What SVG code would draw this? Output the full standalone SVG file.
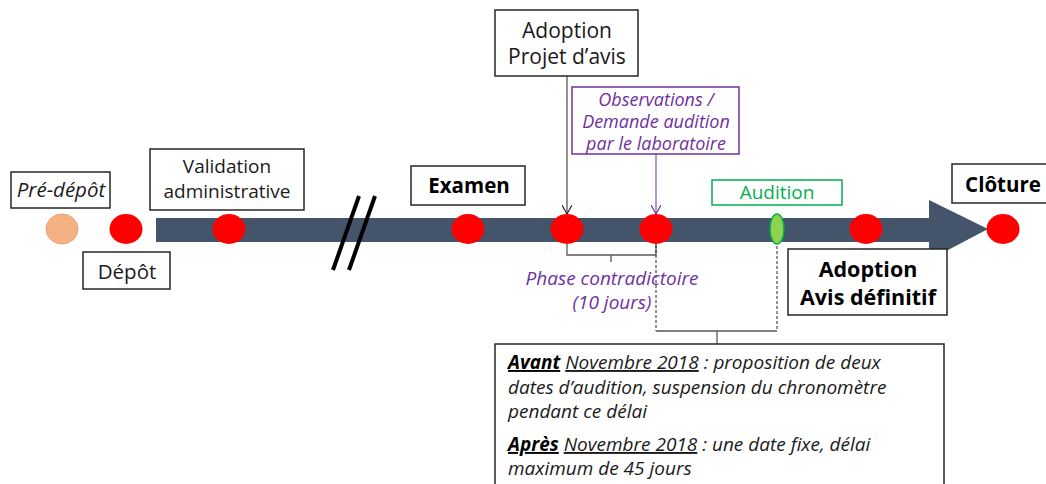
<svg xmlns="http://www.w3.org/2000/svg" width="1046" height="484" viewBox="0 0 1046 484">
<defs>
<style>
text{font-family:"Open Sans","Noto Sans","DejaVu Sans",sans-serif;font-size:20.5px;fill:#1a1a1a;}
.box{fill:#fff;stroke:#262626;stroke-width:1.5;}
.c{text-anchor:middle;}
.it{font-style:italic;}
.b{font-weight:bold;fill:#000;}
.pur{fill:#7030A0;}
.red{fill:#FF0000;}
.br{fill:none;stroke:#595959;stroke-width:1.3;}
.note{font-size:19px;}
</style>
<marker id="vk" viewBox="0 0 10 10" refX="9" refY="5" markerWidth="10" markerHeight="10" markerUnits="userSpaceOnUse" orient="auto">
<path d="M0,0 L9,5 L0,10" fill="none" stroke="#262626" stroke-width="1.2"/>
</marker>
<marker id="vp" viewBox="0 0 10 10" refX="9" refY="5" markerWidth="10" markerHeight="10" markerUnits="userSpaceOnUse" orient="auto">
<path d="M0,0 L9,5 L0,10" fill="none" stroke="#7030A0" stroke-width="1.2"/>
</marker>
</defs>
<rect width="1046" height="484" fill="#fff"/>

<g id="timeline">
<polygon points="156,218 929,218 929,200 988,229 929,260 929,242 156,242" fill="#44546A"/>
<line x1="359" y1="196" x2="333" y2="270" stroke="#000" stroke-width="4"/>
<line x1="375" y1="196" x2="349" y2="270" stroke="#000" stroke-width="4"/>
</g>

<g id="connectors">
<line x1="567" y1="76" x2="567" y2="214" stroke="#262626" stroke-width="1" marker-end="url(#vk)"/>
<line x1="656" y1="154" x2="656" y2="214" stroke="#7030A0" stroke-width="1" marker-end="url(#vp)"/>
<path class="br" d="M567,243 V255 H611 V262 M611,255 H656 V243"/>
<path d="M656,245 V331 M777,246 V331" fill="none" stroke="#262626" stroke-width="1" stroke-dasharray="3,2"/>
<path class="br" d="M656,331 H777 M717,331 V344"/>
</g>

<g id="pre-depot">
<ellipse cx="62" cy="229" rx="16" ry="15" fill="#F4B183" stroke="#F0A070" stroke-width="1"/>
<rect class="box" x="11" y="172" width="99" height="36"/>
<text class="c it" x="61" y="197">Pré-dépôt</text>
</g>

<g id="depot">
<ellipse class="red" cx="126" cy="229" rx="16.5" ry="15"/>
<rect class="box" x="83" y="252" width="87" height="37"/>
<text class="c" x="127" y="279">Dépôt</text>
</g>

<g id="validation">
<ellipse class="red" cx="229" cy="229" rx="16.5" ry="15"/>
<rect class="box" x="150" y="149" width="154" height="61"/>
<text class="c" x="227" y="173" style="font-size:19px">Validation</text>
<text class="c" x="227" y="198" style="font-size:19px">administrative</text>
</g>

<g id="examen">
<ellipse class="red" cx="468" cy="229" rx="16.5" ry="15"/>
<rect class="box" x="411" y="166" width="114" height="39"/>
<text class="c b" x="469" y="193">Examen</text>
</g>

<g id="adoption-projet">
<ellipse class="red" cx="567" cy="229" rx="16.5" ry="15"/>
<rect class="box" x="495" y="10" width="143" height="66"/>
<text class="c" x="567" y="38" style="font-size:21px">Adoption</text>
<text class="c" x="567" y="64" style="font-size:21px">Projet d’avis</text>
</g>

<g id="observations">
<ellipse class="red" cx="656" cy="229" rx="16.5" ry="15"/>
<rect x="572" y="87" width="167" height="67" fill="#fff" stroke="#7030A0" stroke-width="1.5"/>
<text class="c it pur" x="656" y="106" style="font-size:18px">Observations /</text>
<text class="c it pur" x="656" y="128" style="font-size:18px">Demande audition</text>
<text class="c it pur" x="656" y="150" style="font-size:18px">par le laboratoire</text>
</g>

<g id="phase">
<text class="c it pur" x="612" y="285" style="font-size:19px">Phase contradictoire</text>
<text class="c it pur" x="612" y="309" style="font-size:19px">(10 jours)</text>
</g>

<g id="audition">
<ellipse cx="777" cy="229" rx="7" ry="15" fill="#92D050" stroke="#00B050" stroke-width="1.5"/>
<rect x="712" y="180" width="130" height="25" fill="#fff" stroke="#00B050" stroke-width="1.5"/>
<text class="c" x="777" y="199" style="fill:#00B050;font-size:19px">Audition</text>
</g>

<g id="adoption-avis">
<ellipse class="red" cx="866" cy="229" rx="16.5" ry="15"/>
<rect class="box" x="788" y="249" width="159" height="66"/>
<text class="c b" x="868" y="277" style="font-size:21.5px">Adoption</text>
<text class="c b" x="868" y="305" style="font-size:21.5px">Avis définitif</text>
</g>

<g id="cloture">
<rect class="box" x="952" y="164" width="100" height="39"/>
<text class="c b" x="1003" y="192">Clôture</text>
<ellipse class="red" cx="1003" cy="229" rx="16.5" ry="15"/>
</g>

<g id="note">
<rect class="box" x="495" y="344" width="449" height="150"/>
<text class="it note" x="508" y="369"><tspan font-weight="bold" text-decoration="underline" fill="#000">Avant</tspan> <tspan text-decoration="underline">Novembre 2018</tspan> : proposition de deux</text>
<text class="it note" x="508" y="394">dates d’audition, suspension du chronomètre</text>
<text class="it note" x="508" y="418">pendant ce délai</text>
<text class="it note" x="508" y="451"><tspan font-weight="bold" text-decoration="underline" fill="#000">Après</tspan> <tspan text-decoration="underline">Novembre 2018</tspan> : une date fixe, délai</text>
<text class="it note" x="508" y="475">maximum de 45 jours</text>
</g>
</svg>
